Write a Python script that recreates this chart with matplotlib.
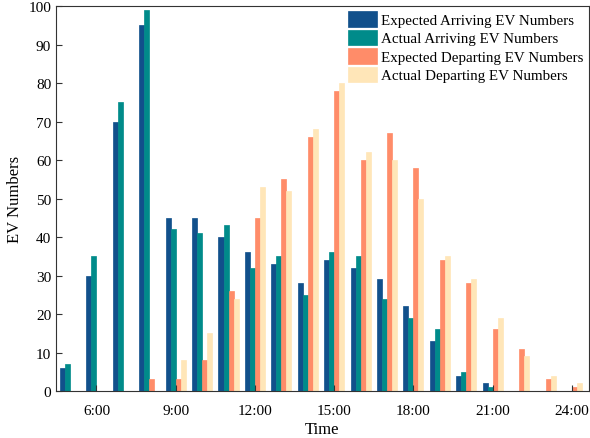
import matplotlib
matplotlib.use("Agg")
import matplotlib.pyplot as plt
import numpy as np

hours = list(range(5, 25))
expected_arriving = [6, 30, 70, 95, 45, 45, 40, 36, 33, 28, 34, 32, 29, 22, 13, 4, 2, 0, 0, 0]
actual_arriving = [7, 35, 75, 99, 42, 41, 43, 32, 35, 25, 36, 35, 24, 19, 16, 5, 1, 0, 0, 0]
expected_departing = [0, 0, 0, 3, 3, 8, 26, 45, 55, 66, 78, 60, 67, 58, 34, 28, 16, 11, 3, 1]
actual_departing = [0, 0, 0, 0, 8, 15, 24, 53, 52, 68, 80, 62, 60, 50, 35, 29, 19, 9, 4, 2]
tick_hours = [6, 9, 12, 15, 18, 21, 24]
tick_labels = ["6:00", "9:00", "12:00", "15:00", "18:00", "21:00", "24:00"]

series = [
    ("Expected Arriving EV Numbers", expected_arriving, "#11508b"),
    ("Actual Arriving EV Numbers", actual_arriving, "#008b8a"),
    ("Expected Departing EV Numbers", expected_departing, "#ff8c69"),
    ("Actual Departing EV Numbers", actual_departing, "#ffe6b8"),
]

plt.rcParams["font.family"] = ["Liberation Serif", "DejaVu Serif"]
plt.rcParams["font.size"] = 11

fig, ax = plt.subplots(figsize=(5.9, 4.39), dpi=100)
x = np.array(hours)
width = 0.19
for i, (label, vals, color) in enumerate(series):
    ax.bar(x + (i - 1.5) * width, vals, width, label=label, color=color,
           edgecolor=color, linewidth=0.5)

ax.set_xlim(4.47, 24.64)
ax.set_ylim(0, 100)
ax.set_yticks(range(0, 101, 10))
ax.set_xticks(tick_hours)
ax.set_xticklabels(tick_labels)
ax.tick_params(direction="in", length=4, colors="#333333", labelcolor="black")
ax.tick_params(axis="x", pad=9)
for s in ax.spines.values():
    s.set_color("#333333")
ax.set_xlabel("Time", fontsize=12, labelpad=3)
ax.set_ylabel("EV Numbers", fontsize=12, labelpad=4)
ax.legend(loc="upper right", frameon=False, fontsize=10.8, handlelength=1.9,
          handleheight=1.2, labelspacing=0.18, borderaxespad=0.1, handletextpad=0.3,
          borderpad=0.25)

fig.subplots_adjust(left=0.095, right=0.998, top=0.984, bottom=0.107)
fig.savefig("out.png", dpi=100)
